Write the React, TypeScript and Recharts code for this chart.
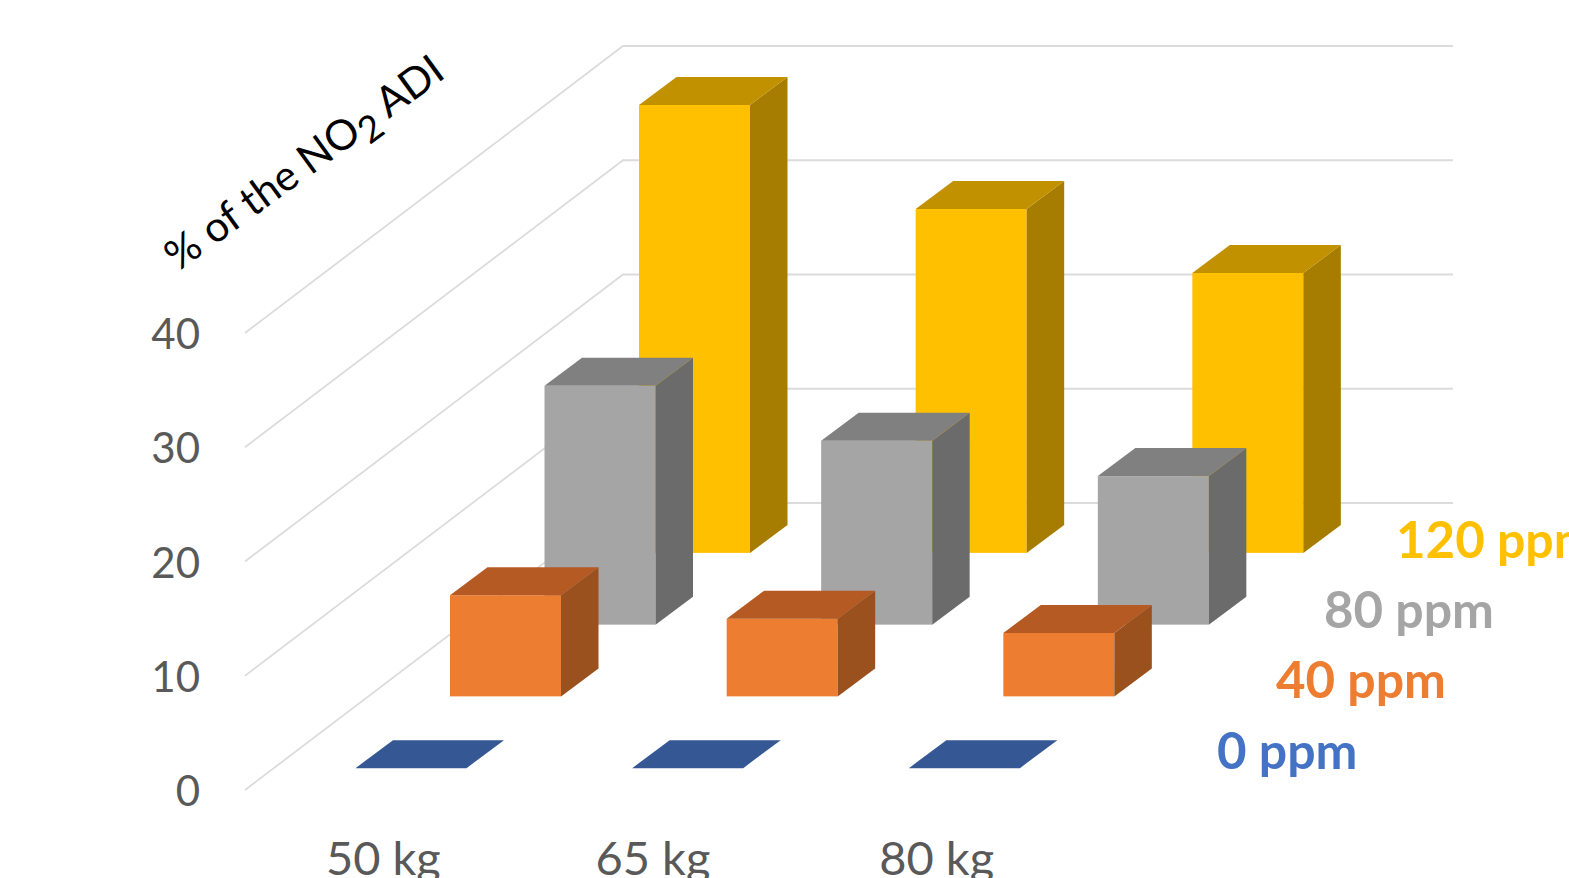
import { BarChart, Bar, XAxis, YAxis, CartesianGrid } from "recharts";

const weights = ["50 kg", "65 kg", "80 kg"];
const ppm0 = [0, 0, 0];
const ppm40 = [8.85, 6.8, 5.55];
const ppm80 = [20.9, 16.1, 13];
const ppm120 = [39.2, 30.1, 24.5];
const yTicks = [0, 10, 20, 30, 40];

const data = weights.map((weight, i) => ({
  weight,
  ppm0: ppm0[i],
  ppm40: ppm40[i],
  ppm80: ppm80[i],
  ppm120: ppm120[i],
}));

// oblique projection of the floor: one series slot, and the bar depth inside it
const slotX = 94.5;
const slotY = 71.75;
const depthX = 37.5;
const depthY = 28;
const wallX = slotX * 4;
const wallY = slotY * 4;
const plotWidth = 830;

const font = "Lato, sans-serif";

type Faces = { front: string; side: string; top: string };

const Box3D = (props: any, slot: number, faces: Faces) => {
  const { width, height } = props;
  const x = props.x - 1 + (slotX - depthX) / 2 + slotX * slot;
  const y = props.y - (slotY - depthY) / 2 - slotY * slot;
  const r = x + width;
  const b = y + height;
  return (
    <g>
      <rect x={x} y={y} width={width} height={height} fill={faces.front} />
      <polygon
        points={`${r},${y} ${r + depthX},${y - depthY} ${r + depthX},${b - depthY} ${r},${b}`}
        fill={faces.side}
      />
      <polygon
        points={`${x},${y} ${x + depthX},${y - depthY} ${r + depthX},${y - depthY} ${r},${y}`}
        fill={faces.top}
      />
    </g>
  );
};

// side wall plus back wall line for one value
const WallLine = (props: any) => {
  const { x1, y1 } = props;
  return (
    <polyline
      points={`${x1},${y1} ${x1 + wallX},${y1 - wallY} ${x1 + wallX + plotWidth},${y1 - wallY}`}
      fill="none"
      stroke="#DCDCDC"
      strokeWidth={1.8}
    />
  );
};

const WeightTick = (props: any) => {
  const { x, payload, index } = props;
  return (
    <text x={index === 1 ? x - 7 : x} y={875} textAnchor="middle" fontSize={47} fontFamily={font} fill="#595959">
      {payload.value}
    </text>
  );
};

const ValueTick = (props: any) => {
  const { y, payload } = props;
  return (
    <text x={200} y={y + 16} textAnchor="end" fontSize={42} fontFamily={font} fill="#595959">
      {payload.value}
    </text>
  );
};

const SeriesLabel = ({ x, y, value, color }: { x: number; y: number; value: string; color: string }) => (
  <text x={x} y={y} fontFamily={font} fontWeight={700} fill={color}>
    <tspan fontSize={51}>{value}</tspan>
    <tspan fontSize={50}> ppm</tspan>
  </text>
);

export default function App() {
  return (
    <div style={{ position: "fixed", left: 0, top: 0, width: 1569, height: 878, overflow: "hidden", background: "#fff" }}>
      <BarChart
        width={1569}
        height={878}
        data={data}
        margin={{ top: 333, right: 494, bottom: 0, left: 0 }}
        barSize={111}
      >
        <CartesianGrid vertical={false} horizontal={(p: any) => <WallLine key={p.key} {...p} />} />
        <XAxis xAxisId="p120" dataKey="weight" height={88} axisLine={false} tickLine={false} tick={WeightTick} />
        <XAxis xAxisId="p80" dataKey="weight" hide />
        <XAxis xAxisId="p40" dataKey="weight" hide />
        <XAxis xAxisId="p0" dataKey="weight" hide />
        <YAxis width={245} domain={[0, 40]} ticks={yTicks} axisLine={false} tickLine={false} tick={ValueTick} />
        <Bar
          xAxisId="p120"
          dataKey="ppm120"
          isAnimationActive={false}
          shape={(p: any) => Box3D(p, 3, { front: "#FFC000", side: "#A67D00", top: "#C29100" })}
        />
        <Bar
          xAxisId="p80"
          dataKey="ppm80"
          isAnimationActive={false}
          shape={(p: any) => Box3D(p, 2, { front: "#A5A5A5", side: "#6B6B6B", top: "#808080" })}
        />
        <Bar
          xAxisId="p40"
          dataKey="ppm40"
          isAnimationActive={false}
          shape={(p: any) => Box3D(p, 1, { front: "#ED7D31", side: "#9A511E", top: "#B55A22" })}
        />
        <Bar
          xAxisId="p0"
          dataKey="ppm0"
          isAnimationActive={false}
          shape={(p: any) => Box3D(p, 0, { front: "#4472C4", side: "#2F5597", top: "#355895" })}
        />
        <SeriesLabel x={1217} y={769} value="0" color="#4472C4" />
        <SeriesLabel x={1276} y={698} value="40" color="#ED7D31" />
        <SeriesLabel x={1324} y={628} value="80" color="#A5A5A5" />
        <SeriesLabel x={1396} y={558} value="120" color="#FFC000" />
        <text transform="rotate(-36 178 272)" x={178} y={272} fontSize={42} fontFamily={font} fill="#000">
          % of the NO
          <tspan fontSize={37} dy={10}>2</tspan>
          <tspan dy={-10}> ADI</tspan>
        </text>
      </BarChart>
    </div>
  );
}
